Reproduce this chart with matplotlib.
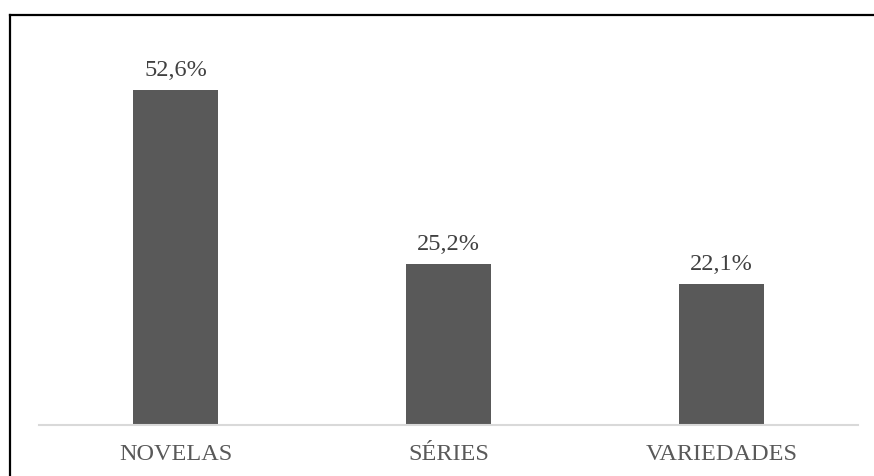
import matplotlib
matplotlib.use("Agg")
import matplotlib.pyplot as plt
from matplotlib.lines import Line2D

categories = ["NOVELAS", "SÉRIES", "VARIEDADES"]
values = [52.6, 25.2, 22.1]
labels = ["52,6%", "25,2%", "22,1%"]

W, H = 874, 477
fig = plt.figure(figsize=(W / 100, H / 100), dpi=100)
ax = fig.add_axes([39 / W, 1 - 425.7 / H, (858 - 39) / W, (425.7 - 44) / H])

bar_color = "#595959"
text_color = "#595959"
serif = ["Liberation Serif", "DejaVu Serif"]

x = list(range(len(categories)))
bars = ax.bar(x, values, width=0.315, color=bar_color, zorder=2)

ax.set_xlim(-0.5, len(categories) - 0.5)
ax.set_ylim(0, 60)

for rect, lab in zip(bars, labels):
    ax.annotate(lab, (rect.get_x() + rect.get_width() / 2, rect.get_height()),
                xytext=(0, 10.8), textcoords="offset points",
                ha="center", va="baseline", fontsize=17.5, color="#404040",
                family=serif)

ax.set_xticks(x)
ax.set_xticklabels(categories, fontsize=17.5, color=text_color, family=serif)
ax.tick_params(axis="x", length=0, pad=13)
ax.set_yticks([])

for side in ("top", "right", "left"):
    ax.spines[side].set_visible(False)
ax.spines["bottom"].set_color("#d9d9d9")
ax.spines["bottom"].set_linewidth(1.5)

# partial frame around the chart
fig.add_artist(Line2D([9.5 / W, 873 / W], [1 - 15.5 / H, 1 - 15.5 / H],
                      transform=fig.transFigure, color="black", lw=1.6))
fig.add_artist(Line2D([9.5 / W, 9.5 / W], [0, 1 - 15.5 / H],
                      transform=fig.transFigure, color="black", lw=1.6))

fig.savefig("out.png", dpi=100)
